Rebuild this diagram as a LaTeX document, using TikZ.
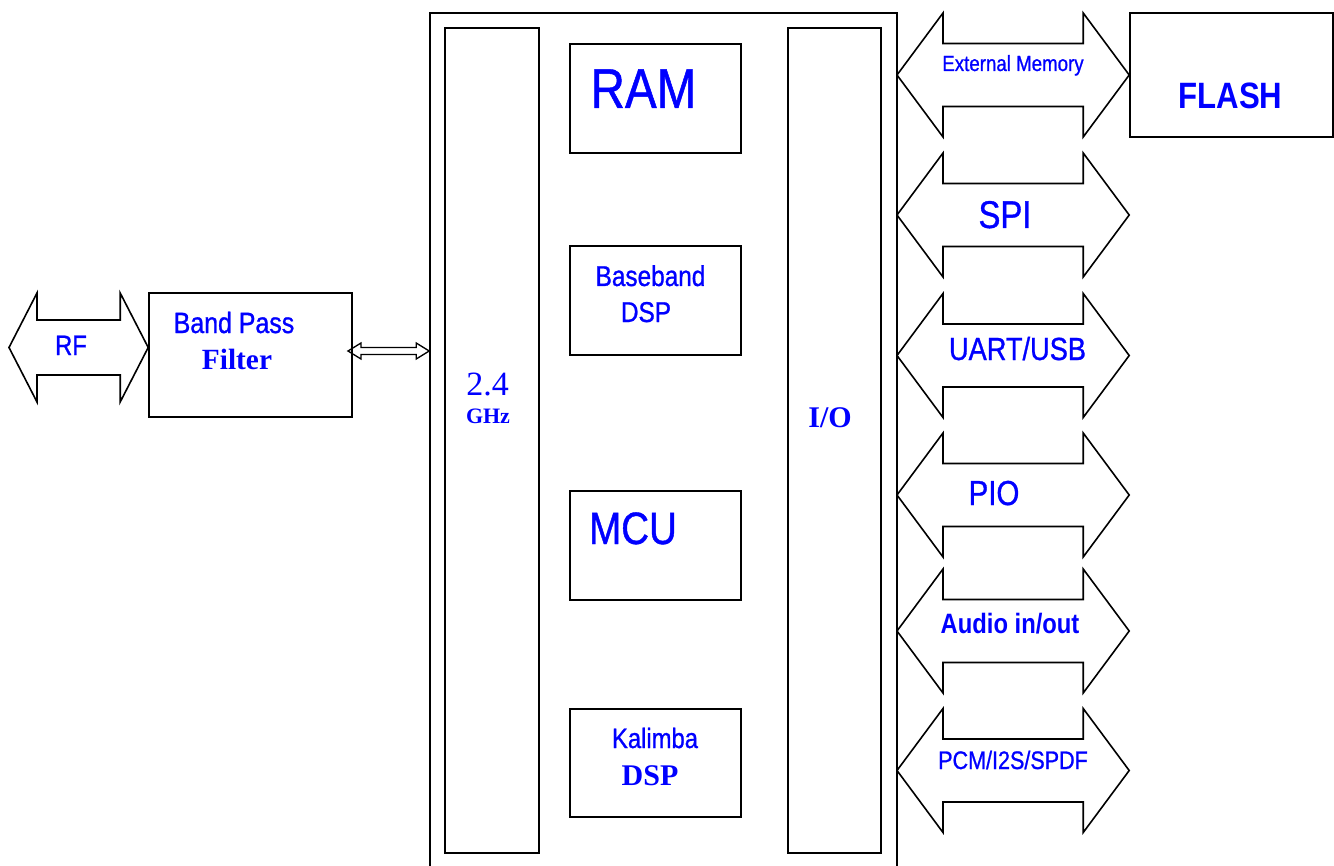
\documentclass[tikz,border=0pt]{standalone}
\usepackage{fontspec}
\setmainfont{Liberation Serif}
\setsansfont{Liberation Sans}[FakeStretch=0.85, UprightFeatures={FakeBold=0.9}]
\usetikzlibrary{calc}
\usetikzlibrary{fit}
\definecolor{labelblue}{RGB}{0,0,255}
\newcommand{\fsz}[1]{\fontsize{#1}{#1}\selectfont}
\newcommand{\busarrow}[5] % left tip, right tip, head length, head half height, shaft half height (px)
{
	\draw[line join=miter] (#1) -- ($(#1)+(#3,-#4)$) -- ($(#1)+(#3,-#5)$) -- ($(#2)+(-#3,-#5)$) -- ($(#2)+(-#3,-#4)$) -- (#2)
		-- ($(#2)+(-#3,#4)$) -- ($(#2)+(-#3,#5)$) -- ($(#1)+(#3,#5)$) -- ($(#1)+(#3,#4)$) -- cycle;
}
\tikzset{
	block/.style={draw, inner sep=0pt},
	lbl/.style={text=labelblue, font=\sffamily, anchor=base, inner sep=0pt},
}

\begin{document}
\begin{tikzpicture}[x=0.75pt, y=-0.75pt, line width=1.2pt]
	% page: 1334 x 866 px, y downwards
	\useasboundingbox (0,0) rectangle (1334,866);
	\fill[white] (0,0) rectangle (1334,866);
	
	% chip with radio and I/O columns
	\node[block, fit={(430,13) (897,900)}] (chip) {};
	\node[block, fit={(445,28) (539,853)}] (radio) {};
	\node[block, fit={(788,28) (881,853)}] (io) {};
	
	% core blocks
	\node[block, fit={(570,44) (741,153)}] (ram) {};
	\node[block, fit={(570,246) (741,355)}] (baseband) {};
	\node[block, fit={(570,491) (741,600)}] (mcu) {};
	\node[block, fit={(570,709) (741,817)}] (kalimba) {};
	
	% outside the chip
	\node[block, fit={(149,293) (352,417)}] (filter) {};
	\node[block, fit={(1130,13) (1333,137)}] (flash) {};
	
	% RF and filter link
	\coordinate (rf) at (9,347.5);
	\busarrow{rf}{filter.west |- rf}{28}{54.5}{27.5}
	\coordinate (link) at (348,351);
	\begin{scope}[line width=1pt]
		\busarrow{link}{chip.west |- link}{13}{8}{3.5}
	\end{scope}
	
	% buses on the I/O side
	\coordinate (extmem) at (897,75);
	\coordinate (spi) at (897,215);
	\coordinate (uart) at (897,355.5);
	\coordinate (pio) at (897,495);
	\coordinate (audio) at (897,631);
	\coordinate (pcm) at (897,770.5);
	\busarrow{extmem}{flash.west |- extmem}{46}{62}{31.5}
	\busarrow{spi}{flash.west |- spi}{46}{62}{31.5}
	\busarrow{uart}{flash.west |- uart}{46}{62}{31.5}
	\busarrow{pio}{flash.west |- pio}{46}{62}{31.5}
	\busarrow{audio}{flash.west |- audio}{46}{62}{31.5}
	\busarrow{pcm}{flash.west |- pcm}{46}{62}{31.5}
	
	% labels
	\node[lbl, font=\sffamily\fsz{21pt}] (rflabel) at (71,355) {RF};
	\node[lbl, font=\sffamily\fsz{22pt}] (bandpass) at (234,333) {Band Pass};
	\node[lbl, font=\rmfamily\bfseries\fsz{22pt}] (filterlabel) at (237,369) {Filter};
	\node[lbl, font=\rmfamily\fsz{25.5pt}] (ghz) at (487.5,395) {2.4};
	\node[lbl, font=\rmfamily\bfseries\fsz{16.5pt}] (ghzunit) at (488,423) {GHz};
	\node[lbl, font=\rmfamily\bfseries\fsz{22.5pt}] (iolabel) at (830,427) {I/O};
	\node[lbl, font=\sffamily\fsz{42pt}] (ramlabel) at (643.5,108) {RAM};
	\node[lbl, font=\sffamily\fsz{21.5pt}] (bblabel) at (650.5,286) {Baseband};
	\node[lbl, font=\sffamily\fsz{21.5pt}] (bbdsp) at (646,322) {DSP};
	\node[lbl, font=\sffamily\fsz{34pt}] (mculabel) at (633,544) {MCU};
	\node[lbl, font=\sffamily\fsz{21pt}] (kallabel) at (655,748) {Kalimba};
	\node[lbl, font=\rmfamily\bfseries\fsz{22.5pt}] (kaldsp) at (650,785) {DSP};
	\node[lbl, font=\sffamily\bfseries\fsz{27.5pt}] (flashlabel) at (1230.5,109) {FLASH};
	\node[lbl, font=\sffamily\fsz{16.5pt}] (extmemlabel) at (1013,71) {External Memory};
	\node[lbl, font=\sffamily\fsz{29pt}] (spilabel) at (1005,228) {SPI};
	\node[lbl, font=\sffamily\fsz{24pt}] (uartlabel) at (1017.5,360) {UART/USB};
	\node[lbl, font=\sffamily\fsz{26pt}] (piolabel) at (994,505) {PIO};
	\node[lbl, font=\sffamily\bfseries\fsz{21pt}] (audiolabel) at (1010,633) {Audio in/out};
	\node[lbl, font=\sffamily\fsz{19pt}] (pcmlabel) at (1013,769) {PCM/I2S/SPDF};
\end{tikzpicture}
\end{document}
